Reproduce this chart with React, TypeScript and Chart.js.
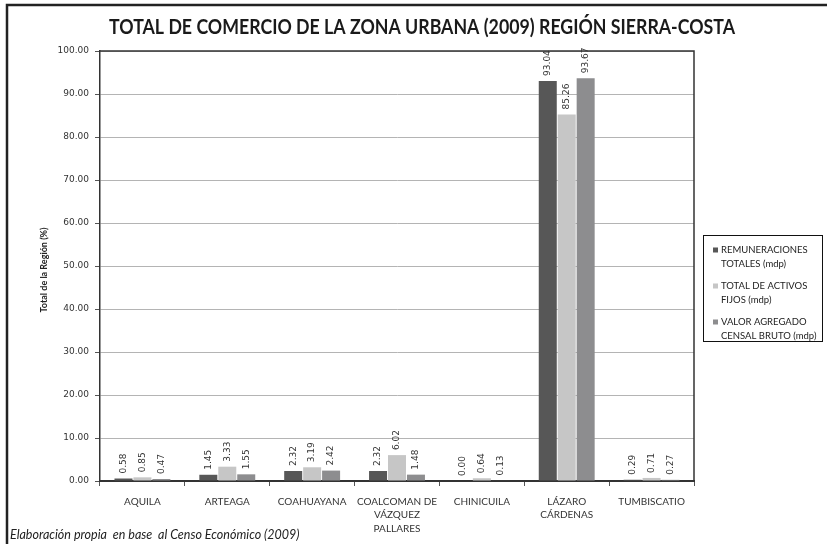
import React, { useEffect, useRef } from "react";
import { Chart, registerables } from "chart.js";

Chart.register(...registerables);

const TITLE = "TOTAL DE COMERCIO DE LA ZONA URBANA (2009) REGIÓN SIERRA-COSTA";
const Y_TITLE = "Total de la Región (%)";
const FOOTNOTE = "Elaboración propia  en base  al Censo Económico (2009)";

const categories: (string | string[])[] = [
  "AQUILA",
  "ARTEAGA",
  "COAHUAYANA",
  ["COALCOMAN DE", "VÁZQUEZ", "PALLARES"],
  "CHINICUILA",
  ["LÁZARO", "CÁRDENAS"],
  "TUMBISCATIO",
];

const remuneraciones = [0.58, 1.45, 2.32, 2.32, 0.0, 93.04, 0.29];
const activosFijos = [0.85, 3.33, 3.19, 6.02, 0.64, 85.26, 0.71];
const valorAgregado = [0.47, 1.55, 2.42, 1.48, 0.13, 93.67, 0.27];

const seriesLabels: string[][] = [
  ["REMUNERACIONES", "TOTALES (mdp)"],
  ["TOTAL DE ACTIVOS", "FIJOS (mdp)"],
  ["VALOR AGREGADO", "CENSAL BRUTO (mdp)"],
];
const seriesColors = ["#575757", "#c6c6c6", "#8d8d8f"];

const decorPlugin = {
  id: "decor",
  afterDraw(chart: any) {
    const ctx = chart.ctx as CanvasRenderingContext2D;
    const area = chart.chartArea;
    ctx.save();

    // outer frame (top & left)
    ctx.strokeStyle = "#222";
    ctx.lineWidth = 2.5;
    ctx.beginPath();
    ctx.moveTo(7, 544);
    ctx.lineTo(7, 5);
    ctx.lineTo(827, 5);
    ctx.stroke();

    // plot frame top & right
    ctx.strokeStyle = "#333";
    ctx.lineWidth = 1.5;
    ctx.beginPath();
    ctx.moveTo(area.left, area.top);
    ctx.lineTo(area.right, area.top);
    ctx.lineTo(area.right, area.bottom);
    ctx.stroke();

    // title
    ctx.fillStyle = "#1a1a1a";
    ctx.font = "bold 20px Lato";
    ctx.textAlign = "center";
    ctx.textBaseline = "middle";
    ctx.fillText(TITLE, 422, 28, 626);

    // y-axis title
    ctx.save();
    ctx.translate(44, 270);
    ctx.rotate(-Math.PI / 2);
    ctx.font = "bold 9px Lato";
    ctx.fillStyle = "#222";
    ctx.textAlign = "center";
    ctx.textBaseline = "middle";
    ctx.fillText(Y_TITLE, 0, 0);
    ctx.restore();

    // data labels
    ctx.font = "9px 'DejaVu Sans'";
    ctx.fillStyle = "#333";
    chart.data.datasets.forEach((ds: any, di: number) => {
      const meta = chart.getDatasetMeta(di);
      meta.data.forEach((bar: any, i: number) => {
        const v = ds.data[i] as number;
        ctx.save();
        ctx.translate(bar.x, bar.y - 5);
        ctx.rotate(-Math.PI / 2);
        ctx.textAlign = "left";
        ctx.textBaseline = "middle";
        ctx.fillText(v.toFixed(2), 0, 0);
        ctx.restore();
      });
    });

    // legend
    ctx.strokeStyle = "#111";
    ctx.lineWidth = 1;
    ctx.strokeRect(703.5, 235.5, 119, 106);
    ctx.font = "9.5px Lato";
    ctx.textAlign = "left";
    ctx.textBaseline = "middle";
    seriesLabels.forEach((lines, si) => {
      const y0 = 250 + si * 36;
      ctx.fillStyle = seriesColors[si];
      ctx.fillRect(713, y0 - 2.5, 5, 5);
      ctx.fillStyle = "#222";
      lines.forEach((ln, li) => {
        ctx.fillText(ln, 721, y0 + li * 14);
      });
    });

    // footnote
    ctx.font = "italic 12.5px Lato";
    ctx.fillStyle = "#222";
    ctx.textAlign = "left";
    ctx.textBaseline = "middle";
    ctx.fillText(FOOTNOTE, 10, 535);

    ctx.restore();
  },
};

export default function App() {
  const ref = useRef<HTMLCanvasElement | null>(null);

  useEffect(() => {
    document.body.style.margin = "0";
    const canvas = ref.current;
    if (!canvas) return;
    const chart = new Chart(canvas, {
      type: "bar",
      data: {
        labels: categories as any,
        datasets: [
          { label: seriesLabels[0].join(" "), data: remuneraciones, backgroundColor: seriesColors[0] },
          { label: seriesLabels[1].join(" "), data: activosFijos, backgroundColor: seriesColors[1] },
          { label: seriesLabels[2].join(" "), data: valorAgregado, backgroundColor: seriesColors[2] },
        ],
      },
      options: {
        animation: false,
        responsive: false,
        devicePixelRatio: 1,
        layout: { padding: { left: 0, top: 51, right: 133, bottom: 0 } },
        datasets: { bar: { categoryPercentage: 0.67, barPercentage: 0.95 } },
        plugins: {
          legend: { display: false },
          title: { display: false },
          tooltip: { enabled: false },
        },
        scales: {
          x: {
            grid: {
              display: true,
              drawOnChartArea: false,
              drawTicks: true,
              tickLength: 5,
              color: "#555",
              offset: true,
            },
            border: { color: "#333", width: 2 },
            ticks: {
              font: { family: "Lato", size: 10, lineHeight: 1.35 },
              color: "#333",
              padding: 9,
              maxRotation: 0,
              autoSkip: false,
            },
            afterFit(scale: any) {
              scale.height = 63;
            },
          },
          y: {
            min: 0,
            max: 100,
            ticks: {
              stepSize: 10,
              callback: (v: any) => Number(v).toFixed(2),
              font: { family: "DejaVu Sans", size: 9 },
              color: "#333",
              padding: 6,
            },
            grid: { color: "#b4b4b4", tickLength: 5, tickColor: "#555" },
            border: { color: "#333", width: 1.5 },
            afterFit(scale: any) {
              scale.width = 100;
            },
          },
        },
      },
      plugins: [decorPlugin],
    });
    return () => chart.destroy();
  }, []);

  return (
    <div style={{ width: 827, height: 544, background: "#fff" }}>
      <canvas ref={ref} width={827} height={544} style={{ display: "block" }} />
    </div>
  );
}
